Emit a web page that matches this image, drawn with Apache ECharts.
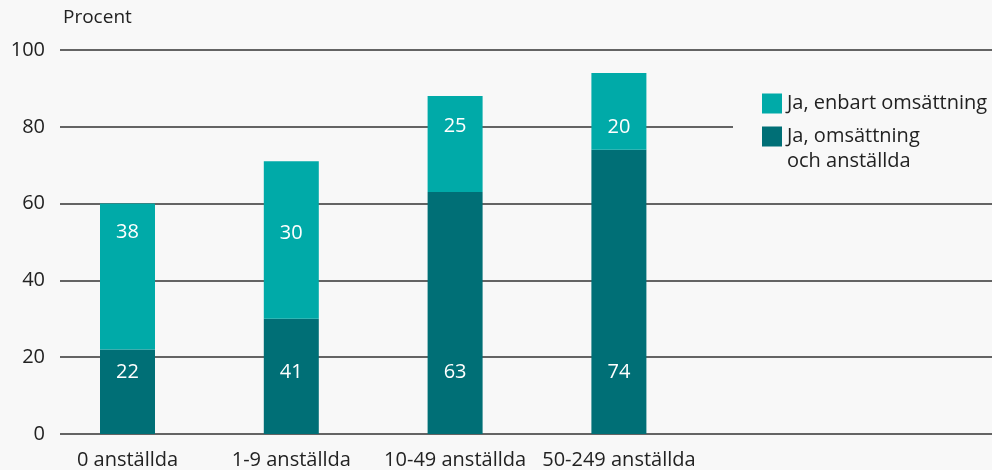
<!DOCTYPE html>
<html><head><meta charset="utf-8">
<script src="https://cdn.jsdelivr.net/npm/echarts@6/dist/echarts.min.js"></script>
<style>html,body{margin:0;padding:0;background:#f8f8f8}#c{width:992px;height:470px}</style>
</head><body><div id="c"></div>
<script>
const categories = ['0 anställda', '1-9 anställda', '10-49 anställda', '50-249 anställda'];
// bar heights as drawn
const darkValues = [22, 30, 63, 74];   // Ja, omsättning och anställda
const lightValues = [38, 41, 25, 20];  // Ja, enbart omsättning
// label texts as printed in the reference
const darkLabels = [22, 41, 63, 74];
const lightLabels = [38, 30, 25, 20];
const yTicks = [0, 20, 40, 60, 80, 100];

const nameLight = 'Ja, enbart omsättning';
const nameDark = 'Ja, omsättning\noch anställda';
const FONT = 'Open Sans';
const FS = 20;
const lightLabelDist = [18, 61, 19, 43];

const chart = echarts.init(document.getElementById('c'));
chart.setOption({
  backgroundColor: '#f8f8f8',
  animation: false,
  textStyle: { fontFamily: FONT },
  grid: [
    { left: 60, right: 0, top: 50, bottom: 36 },
    { left: 45.6, width: 655.2, top: 50, bottom: 36 }
  ],
  legend: [
    {
      data: [nameLight], left: 733, top: 91, orient: 'vertical', z: 8,
      padding: [0, 40, 0, 29], backgroundColor: '#f8f8f8',
      itemWidth: 20, itemHeight: 20, icon: 'rect',
      textStyle: { fontFamily: FONT, fontSize: FS, color: '#222', lineHeight: 25 }
    },
    {
      data: [nameDark], left: 733, top: 99, orient: 'vertical', z: 6,
      padding: [0, 150, 0, 29], backgroundColor: '#f8f8f8',
      itemWidth: 20, itemHeight: 20, icon: 'rect',
      formatter: n => '\n' + n,
      textStyle: { fontFamily: FONT, fontSize: FS, color: '#222', lineHeight: 25 }
    }
  ],
  xAxis: [
    { gridIndex: 0, type: 'category', data: categories, show: false },
    {
      gridIndex: 1, type: 'category', data: categories,
      axisLine: { show: false }, axisTick: { show: false },
      axisLabel: { interval: 0, fontFamily: FONT, fontSize: FS, color: '#222', margin: 16 }
    }
  ],
  yAxis: [
    {
      gridIndex: 0, type: 'value', min: yTicks[0], max: yTicks[yTicks.length - 1], interval: 20,
      name: 'Procent', nameLocation: 'end', nameGap: 32,
      nameTextStyle: { fontFamily: FONT, fontSize: 19, color: '#222', align: 'left', verticalAlign: 'middle', padding: [0, 0, 0, 3] },
      axisLine: { show: false }, axisTick: { show: false },
      axisLabel: { fontFamily: FONT, fontSize: FS, color: '#222', margin: 15 },
      splitLine: { lineStyle: { color: '#333', width: 1.6 } }
    },
    {
      gridIndex: 1, type: 'value', min: yTicks[0], max: yTicks[yTicks.length - 1], interval: 20,
      show: false, splitLine: { show: false }
    }
  ],
  series: [
    {
      name: nameDark, type: 'bar', stack: 's', xAxisIndex: 1, yAxisIndex: 1,
      barWidth: 55, itemStyle: { color: '#006f76' },
      data: darkValues.map((v, i) => ({
        value: v,
        label: {
          show: true, position: 'insideBottom', distance: 51,
          formatter: String(darkLabels[i]),
          color: '#fff', fontFamily: FONT, fontSize: FS, lineHeight: 22
        }
      }))
    },
    {
      name: nameLight, type: 'bar', stack: 's', xAxisIndex: 1, yAxisIndex: 1,
      barWidth: 55, itemStyle: { color: '#00aaa8' },
      data: lightValues.map((v, i) => ({
        value: v,
        label: {
          show: true, position: 'insideTop', distance: lightLabelDist[i],
          formatter: String(lightLabels[i]),
          color: '#fff', fontFamily: FONT, fontSize: FS, lineHeight: 22
        }
      }))
    }
  ]
});
</script></body></html>
